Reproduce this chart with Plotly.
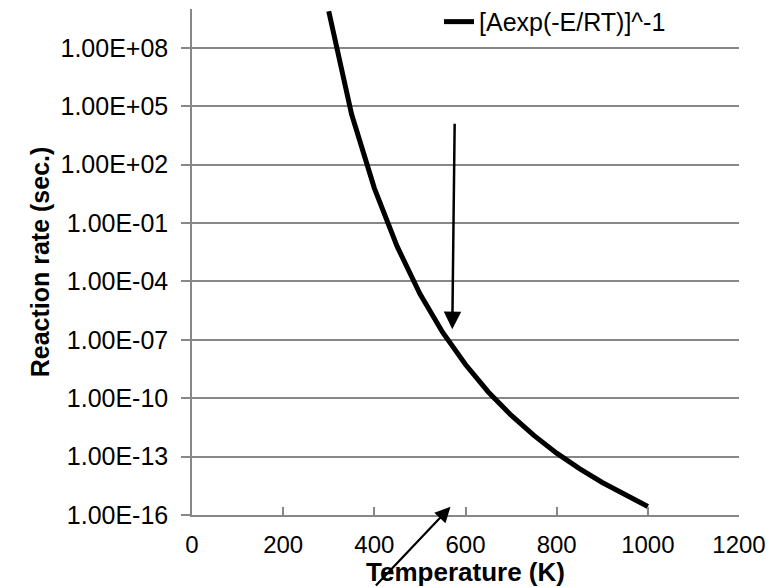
import plotly.graph_objects as go

# Data
temperature_K = [300, 350, 400, 450, 500, 550, 600, 650, 700, 750, 800, 850, 900, 950, 1000]
reaction_rate_s = [7.6e9, 4.0e4, 6.3e0, 6.3e-3, 2.3e-5, 2.4e-7, 5.4e-9, 2.1e-10,
                   1.35e-11, 1.23e-12, 1.5e-13, 2.4e-14, 4.7e-15, 1.07e-15, 2.75e-16]
series_name = "[Aexp(-E/RT)]^-1"

y_tick_vals = [1e-16, 1e-13, 1e-10, 1e-7, 1e-4, 1e-1, 1e2, 1e5, 1e8]
y_tick_text = ["1.00E-16", "1.00E-13", "1.00E-10", "1.00E-07", "1.00E-04",
               "1.00E-01", "1.00E+02", "1.00E+05", "1.00E+08"]
x_tick_vals = [0, 200, 400, 600, 800, 1000, 1200]

FONT = "Liberation Sans, Arial, sans-serif"
GRID = "#878787"

fig = go.Figure()
fig.add_trace(go.Scatter(
    x=temperature_K, y=reaction_rate_s, mode="lines", name=series_name,
    line=dict(color="black", width=5),
))

fig.update_layout(
    width=774, height=579,
    margin=dict(l=184, r=43, t=1, b=72, autoexpand=False),
    paper_bgcolor="white", plot_bgcolor="white",
    font=dict(family=FONT, size=25, color="black"),
    showlegend=True,
    legend=dict(x=0.4516, y=1.02, xanchor="left", yanchor="top",
                bgcolor="rgba(0,0,0,0)", font=dict(size=25),
                itemwidth=30, tracegroupgap=0),
    xaxis=dict(
        range=[0, 1200], tickvals=x_tick_vals, ticks="inside", ticklen=8,
        tickcolor=GRID, tickwidth=1.5, showgrid=False, showline=True,
        linecolor=GRID, linewidth=1.5, zeroline=False,
        tickfont=dict(size=24), ticklabelstandoff=7,
        title=dict(text="<b>Temperature (K)</b>", font=dict(size=26), standoff=7),
    ),
    yaxis=dict(
        type="log", range=[-16, 10], tickvals=y_tick_vals, ticktext=y_tick_text,
        ticks="outside", ticklen=9, tickcolor=GRID, tickwidth=1.5,
        showgrid=True, gridcolor=GRID, gridwidth=1.5, showline=True,
        linecolor=GRID, linewidth=1.5, zeroline=False,
        tickfont=dict(size=25), ticklabelstandoff=8,
        title=dict(text="<b>Reaction rate (sec.)</b>", font=dict(size=25), standoff=4),
    ),
)

fig.add_annotation(
    x=571, y=-6.45, xref="x", yref="y", ax=2.4, ay=-207, axref="pixel", ayref="pixel",
    showarrow=True, arrowhead=2, arrowsize=1.4, arrowwidth=2.5, arrowcolor="black",
    text="", standoff=0,
)
fig.add_annotation(
    x=567, y=-15.58, xref="x", yref="y", ax=-76, ay=86, axref="pixel", ayref="pixel",
    showarrow=True, arrowhead=2, arrowsize=1.4, arrowwidth=2.2, arrowcolor="black",
    text="", standoff=0,
)

fig.write_html("out.html")
